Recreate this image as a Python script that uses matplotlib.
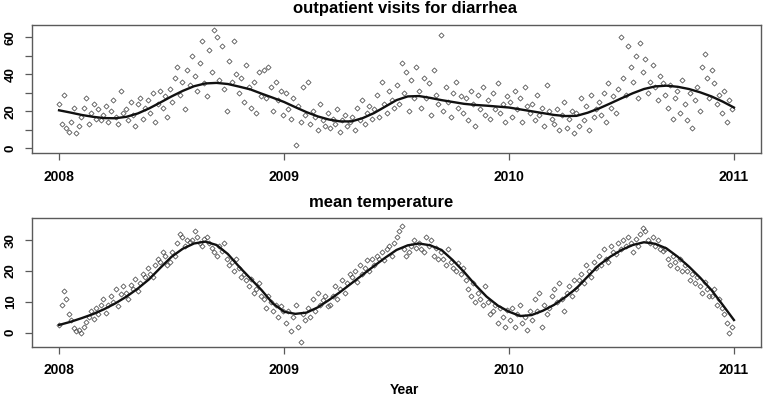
import numpy as np
import matplotlib
matplotlib.use("Agg")
import matplotlib.pyplot as plt

plt.rcParams["font.family"] = ["Liberation Sans", "DejaVu Sans"]

# daily-ish observations, one value every 4 days starting 2008-01-01
STEP_DAYS = 4

visits = [
    # 2008
    24, 13, 29, 11, 9, 14, 22, 8, 12,
    17, 22, 27, 13, 19, 24, 16, 21, 15,
    18, 23, 14, 20, 26, 17, 13, 31, 19,
    21, 15, 25, 18, 12, 24, 27, 16, 22,
    26, 19, 30, 14, 24, 31, 22, 28, 17,
    32, 25, 38, 44, 29, 36, 21, 42, 34,
    50, 39, 31, 46, 58, 35, 28, 53, 41, 64,
    60, 37, 55, 32, 20, 47, 36, 58, 40,
    30, 38, 25, 45, 33, 22, 36, 19, 41, 28,
    42, 27, 44, 33, 20, 36, 26, 31, 18,
    # 2009
    30, 21, 16, 27, 2, 23, 14, 33, 18,
    36, 13, 20, 17, 10, 24, 15, 12, 19,
    11, 16, 13, 21, 9, 15, 18, 12, 14,
    17, 10, 22, 15, 26, 13, 19, 23, 16,
    21, 29, 17, 36, 24, 19, 31, 26, 22,
    34, 24, 46, 30, 41, 20, 37, 27, 44,
    31, 22, 38, 27, 35, 18, 42, 29, 24,
    61, 20, 33, 25, 17, 30, 36, 22, 28,
    19, 27, 15, 31, 24, 12, 29, 21, 33, 18,
    26, 16, 30, 21, 35, 19, 24, 14, 28,
    # 2010
    25, 17, 31, 21, 27, 14, 33, 23, 19,
    24, 15, 29, 18, 22, 12, 34, 20, 16,
    13, 21, 10, 18, 25, 11, 16, 20, 8,
    19, 12, 27, 15, 23, 10, 29, 17, 21,
    25, 18, 30, 14, 35, 22, 28, 19, 32,
    60, 38, 29, 55, 44, 36, 50, 27, 57,
    41, 48, 30, 36, 45, 33, 26, 39, 35,
    29, 22, 34, 16, 27, 31, 19, 37, 24,
    15, 30, 11, 26, 33, 20, 44, 51, 38, 27,
    42, 35, 24, 29, 19, 31, 14, 26, 21,
]

temperature = [
    # 2008
    2.5, 9, 13.5, 11, 6, 4, 1.5, 0.5, 1,
    0, 2, 3.5, 5, 7, 4.5, 8, 6, 9,
    11, 6.5, 9, 12, 10, 14, 8.5, 12.5, 15,
    13, 11, 15.5, 14, 17.5, 13.5, 16, 19, 18,
    21, 19, 18, 22, 24, 23, 26, 25, 22,
    23, 26, 25, 29, 32, 31, 28, 30, 29.5,
    30, 33, 31, 29, 28, 30.5, 31, 29, 27.5, 26,
    25, 28, 26.5, 29, 24, 22, 23, 20, 24,
    21, 18, 19, 17, 15, 17.5, 13, 14, 16, 12,
    11, 8, 12, 10, 7, 9, 5, 8.5, 7,
    # 2009
    3, 7, 0.5, 5, 9, 2, -3, 6, 4,
    8, 5, 11, 7, 13, 9, 10.5, 12, 8.5,
    9, 12, 15, 11, 14, 17, 13, 16, 19,
    18, 20, 16.5, 22, 19, 21, 23.5, 20, 24,
    22, 25, 24, 26, 23.5, 27, 28, 25, 29,
    31, 33, 34.5, 27, 25, 26, 28, 30, 27.5,
    29, 27, 26, 31, 28, 30, 25, 27.5, 24,
    26, 24, 22, 27, 23, 21, 20, 22.5, 19,
    21, 17, 14, 12, 16, 10, 13, 11, 9, 15,
    10, 6, 7, 9, 3, 8, 5, 2, 7.5,
    # 2010
    4, 8, 2, 6, 9, 3, 5, 1, 7,
    4, 11, 7, 13, 2, 9, 6, 8, 12,
    14, 10, 16, 11, 7, 13, 15, 12, 17,
    14, 17, 19, 16, 22, 20, 18, 23, 21,
    25, 22, 27, 24, 23, 28, 26, 25.5, 29,
    27, 30, 28, 31, 29, 26, 30.5, 28, 32,
    34, 33, 30, 29, 31, 28, 30, 27, 26.5,
    27, 24, 22, 25, 23, 21, 24, 20, 22,
    20, 17, 19, 16, 18, 15, 13, 16.5, 14, 12,
    12, 14, 9, 11, 8, 6, 3, 0, 2,
]

# smooth fits every 0.05 year, 2008.00 .. 2011.00
visits_smooth = [
    20.5, 19.3, 18, 17, 16.3, 16.2, 17, 18.8, 21.5, 24.7,
    28, 31, 33.5, 35, 35.3, 34.7, 33.3, 31.8, 29.5, 27.3,
    25, 22.2, 19.5, 17.2, 15.5, 14.5, 14.5, 16.3, 19, 22.5,
    26, 28, 28.2, 27.2, 26, 25, 24, 23.4, 23, 22.5,
    22, 21, 20, 19, 18, 17.4, 17.5, 19.2, 21.5, 24.2,
    27, 29.7, 32, 33.4, 33.8, 33.2, 32, 30.2, 28, 25.2,
    22,
]
temp_smooth = [
    2.5, 3.5, 4.7, 6, 7.6, 9.5, 11.7, 14.3, 17.3, 21,
    24.6, 27.2, 28.9, 29.5, 28.4, 25.5, 21.4, 17.6, 13.8, 9.5,
    6.8, 6.1, 6.5, 8.2, 10.6, 13.2, 16, 18.8, 21.6, 24.3,
    26.8, 28.3, 28.9, 28.3, 26.8, 23.5, 19.7, 15.5, 11.7, 8.8,
    6.8, 5.4, 5.7, 7.1, 9, 11.5, 14.4, 18.2, 21.9, 24.6,
    26.8, 28.4, 29.3, 28.8, 27.3, 24.6, 21.4, 17.8, 13.8, 9,
    4.1,
]

years = [2008, 2009, 2010, 2011]

t_obs_v = 2008 + STEP_DAYS * np.arange(len(visits)) / 365.25
t_obs_t = 2008 + STEP_DAYS * np.arange(len(temperature)) / 365.25
t_fit = np.linspace(2008, 2011, len(visits_smooth))

box_col = "#5a5a5a"
pt_col = "#555555"

fig = plt.figure(figsize=(7.64, 3.97), dpi=100)
ax1 = fig.add_axes([0.042, 0.6146, 0.954, 0.3224])
ax2 = fig.add_axes([0.042, 0.1267, 0.954, 0.3233])


def style(ax, yticks, ylabels, ylim):
    ax.set_xlim(2008 - 0.12, 2011 + 0.12)
    ax.set_ylim(*ylim)
    ax.set_xticks(years)
    ax.set_xticklabels([str(y) for y in years], fontsize=10, fontweight="bold")
    ax.set_yticks(yticks)
    ax.set_yticklabels(ylabels, fontsize=9.5, fontweight="bold", rotation=90, va="center")
    ax.tick_params(direction="out", length=5, width=0.9, color=box_col)
    ax.tick_params(axis="x", pad=7)
    ax.tick_params(axis="y", pad=6)
    for s in ax.spines.values():
        s.set_color(box_col)
        s.set_linewidth(1.0)


ax1.plot(t_obs_v, visits, linestyle="none", marker="D", markersize=2.6,
         markerfacecolor="none", markeredgecolor=pt_col, markeredgewidth=0.6)
ax1.plot(t_fit, visits_smooth, color="#111111", linewidth=1.7)
style(ax1, [0, 10, 20, 30, 40, 50, 60],
      ["0", "", "20", "", "40", "", "60"], (-2.56, 66.56))

ax2.plot(t_obs_t, temperature, linestyle="none", marker="D", markersize=2.6,
         markerfacecolor="none", markeredgecolor=pt_col, markeredgewidth=0.6)
ax2.plot(t_fit, temp_smooth, color="#111111", linewidth=1.7)
style(ax2, [0, 10, 20, 30], ["0", "10", "20", "30"], (-4.54, 37.04))

fig.text(405 / 764, 1 - 9 / 397, "outpatient visits for diarrhea",
         ha="center", va="center", fontsize=12, fontweight="bold")
fig.text(381 / 764, 1 - 202 / 397, "mean temperature",
         ha="center", va="center", fontsize=12, fontweight="bold")
fig.text(404 / 764, 1 - 390 / 397, "Year",
         ha="center", va="center", fontsize=10, fontweight="bold")

fig.savefig("out.png", dpi=100)
